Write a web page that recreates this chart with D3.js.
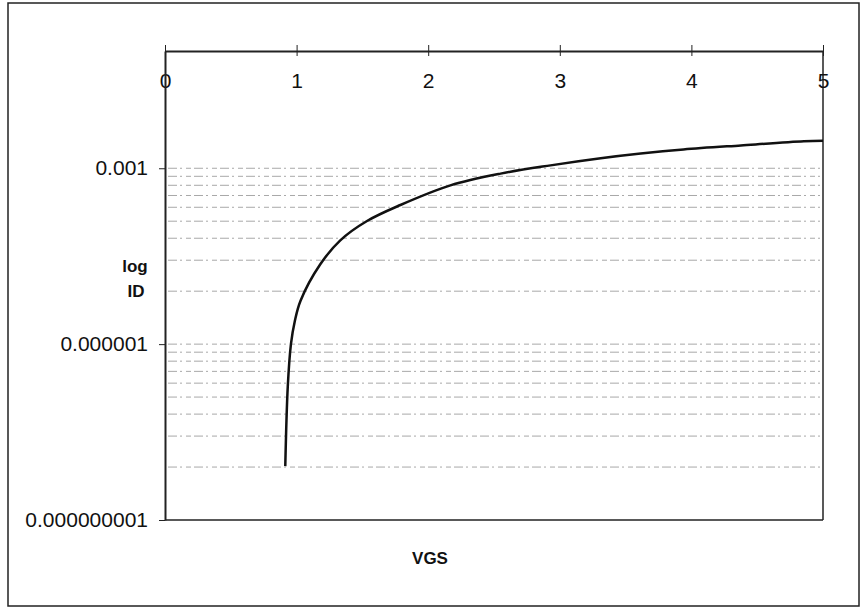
<!DOCTYPE html>
<html>
<head>
<meta charset="utf-8">
<script src="https://cdn.jsdelivr.net/npm/d3@7"></script>
<style>
	body { margin: 0; background: #fff; }
	svg text { font-family: "Liberation Sans", Arial, sans-serif; fill: #111; }
</style>
</head>
<body>
<div id="chart_container"></div>
<script>

// data
// ----------------------------------------

var vgs = [0.914, 0.933, 0.957, 0.987, 1.03, 1.18, 1.332, 1.535, 1.789, 2.169, 2.55, 2.93, 3.311, 3.615, 3.94, 4.376, 4.855, 5.0];
var id  = [8.3e-9, 1.9e-7, 1e-6, 2.5e-6, 5.5e-6, 2.3e-5, 5.9e-5, 1.26e-4, 2.36e-4, 5.1e-4, 8.1e-4, 1.12e-3, 1.48e-3, 1.78e-3, 2.09e-3, 2.45e-3, 2.88e-3, 2.95e-3];

var x_ticks = [0, 1, 2, 3, 4, 5];
var y_ticks = [1e-3, 1e-6, 1e-9];
var y_tick_labels = ["0.001", "0.000001", "0.000000001"];

// gridlines (excel log base 1000, minor lines)
var y_grid = [8e-9, 2.7e-8, 6.4e-8, 1.25e-7, 2.16e-7, 3.43e-7, 5.12e-7, 7.29e-7, 1e-6,
	8e-6, 2.7e-5, 6.4e-5, 1.25e-4, 2.16e-4, 3.43e-4, 5.12e-4, 7.29e-4, 1e-3];

// main variables
// ----------------------------------------

var width = 865,
	height = 615;

var plot_area = {left: 165, right: 823, top: 51, bottom: 520};

dataviz();

function dataviz(){

	var svg = d3.select("#chart_container")
		.append("svg")
		.attr("width", width)
		.attr("height", height);

	// outer frame
	svg.append("rect")
		.attr("x", 8)
		.attr("y", 3)
		.attr("width", width - 14)
		.attr("height", 603)
		.attr("fill", "none")
		.attr("stroke", "#222")
		.attr("stroke-width", 1.5);

	var x = d3.scaleLinear()
		.domain([0, 5])
		.range([plot_area.left, plot_area.right]);

	var y = d3.scaleLog()
		.domain([1e-9, 1e-1])
		.range([plot_area.bottom, plot_area.top]);

	// gridlines
	svg.append("g")
		.attr("class", "grid")
		.selectAll("line")
		.data(y_grid)
		.enter()
		.append("line")
		.attr("x1", plot_area.left + 3)
		.attr("x2", plot_area.right - 3)
		.attr("y1", function(d){ return y(d); })
		.attr("y2", function(d){ return y(d); })
		.attr("stroke", "#a8a8a8")
		.attr("stroke-width", 1)
		.attr("stroke-dasharray", "9,3,2,4,5,3");

	// plot area border (right, bottom)
	svg.append("line")
		.attr("x1", plot_area.right).attr("x2", plot_area.right)
		.attr("y1", plot_area.top).attr("y2", plot_area.bottom)
		.attr("stroke", "#222").attr("stroke-width", 1.5);

	svg.append("line")
		.attr("x1", plot_area.left).attr("x2", plot_area.right)
		.attr("y1", plot_area.bottom).attr("y2", plot_area.bottom)
		.attr("stroke", "#222").attr("stroke-width", 1.5);

	// x axis on top
	var x_axis = d3.axisTop(x)
		.tickValues(x_ticks)
		.tickFormat(d3.format("d"))
		.tickSize(5)
		.tickSizeOuter(0);

	var gx = svg.append("g")
		.attr("transform", "translate(0," + plot_area.top + ")")
		.call(x_axis);

	gx.select(".domain").attr("stroke", "#222").attr("stroke-width", 2);
	gx.selectAll(".tick line").attr("stroke", "#222").attr("y2", -6);
	gx.selectAll(".tick").append("line")
		.attr("y1", 0).attr("y2", 5)
		.attr("stroke", "#222");
	gx.selectAll(".tick text")
		.attr("y", 37)
		.attr("font-size", 21)
		.attr("font-family", "Liberation Sans, Arial, sans-serif")
		.attr("fill", "#111");

	// y axis
	var y_axis = d3.axisLeft(y)
		.tickValues(y_ticks)
		.tickFormat(function(d, i){ return y_tick_labels[i]; })
		.tickSize(6)
		.tickSizeOuter(0);

	var gy = svg.append("g")
		.attr("transform", "translate(" + plot_area.left + ",0)")
		.call(y_axis);

	gy.select(".domain").attr("stroke", "#222").attr("stroke-width", 2);
	gy.selectAll(".tick line").attr("stroke", "#222");
	gy.selectAll(".tick text")
		.attr("x", -17)
		.attr("font-size", 21)
		.attr("font-family", "Liberation Sans, Arial, sans-serif")
		.attr("fill", "#111");

	// curve
	var points = vgs.map(function(v, i){ return {v: v, id: id[i]}; });

	var line = d3.line()
		.x(function(d){ return x(d.v); })
		.y(function(d){ return y(d.id); })
		.curve(d3.curveCatmullRom.alpha(0.5));

	svg.append("path")
		.datum(points)
		.attr("d", line)
		.attr("fill", "none")
		.attr("stroke", "#111")
		.attr("stroke-width", 2.5);

	// axis titles
	svg.append("text")
		.attr("x", 135).attr("y", 272)
		.attr("text-anchor", "middle")
		.attr("font-size", 17).attr("font-weight", "bold")
		.text("log");

	svg.append("text")
		.attr("x", 136).attr("y", 297)
		.attr("text-anchor", "middle")
		.attr("font-size", 17).attr("font-weight", "bold")
		.text("ID");

	svg.append("text")
		.attr("x", 430).attr("y", 564)
		.attr("text-anchor", "middle")
		.attr("font-size", 17).attr("font-weight", "bold")
		.text("VGS");
}
</script>
</body>
</html>
